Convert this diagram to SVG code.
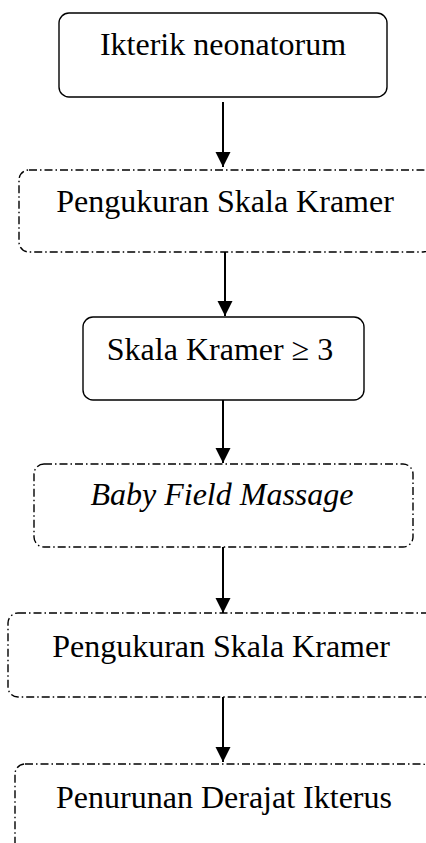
<svg xmlns="http://www.w3.org/2000/svg" width="426" height="843" viewBox="0 0 426 843">
<style>
.solid{fill:#fff;stroke:#000;stroke-width:1.4}
.dash{fill:#fff;stroke:#000;stroke-width:1.4;stroke-dasharray:8 3 1.5 3}
.lbl{font-family:"Liberation Serif","Times New Roman",serif;font-size:32px;fill:#000;text-anchor:middle}
.it{font-style:italic}
.conn{stroke:#000;stroke-width:2;fill:none}
</style>
<defs>
<marker id="ah" markerUnits="userSpaceOnUse" markerWidth="16" markerHeight="16" refX="15" refY="7.5" orient="auto">
<path d="M0,0 L15,7.5 L0,15 Z" fill="#000"/>
</marker>
</defs>
<rect width="426" height="843" fill="#fff"/>
<g id="n1"><rect class="solid" x="59" y="13" width="328" height="84" rx="10"/><text class="lbl" x="223" y="55">Ikterik neonatorum</text></g>
<g id="n2"><rect class="dash" x="19" y="170" width="414" height="82" rx="10"/><text class="lbl" x="225" y="212">Pengukuran Skala Kramer</text></g>
<g id="n3"><rect class="solid" x="83" y="317" width="281" height="83" rx="10"/><text class="lbl" x="220" y="360">Skala Kramer ≥ 3</text></g>
<g id="n4"><rect class="dash" x="34" y="464" width="379" height="83" rx="10"/><text class="lbl it" x="222" y="505">Baby Field Massage</text></g>
<g id="n5"><rect class="dash" x="8" y="613" width="430" height="84" rx="10"/><text class="lbl" x="221" y="657">Pengukuran Skala Kramer</text></g>
<g id="n6"><rect class="dash" x="15" y="764" width="417" height="100" rx="10"/><text class="lbl" x="224" y="808">Penurunan Derajat Ikterus</text></g>
<g id="connectors">
<line class="conn" x1="223" y1="102" x2="223" y2="167" marker-end="url(#ah)"/>
<line class="conn" x1="225" y1="252" x2="225" y2="316" marker-end="url(#ah)"/>
<line class="conn" x1="223" y1="400" x2="223" y2="463" marker-end="url(#ah)"/>
<line class="conn" x1="223" y1="547" x2="223" y2="613" marker-end="url(#ah)"/>
<line class="conn" x1="223" y1="697" x2="223" y2="762" marker-end="url(#ah)"/>
</g>
</svg>
